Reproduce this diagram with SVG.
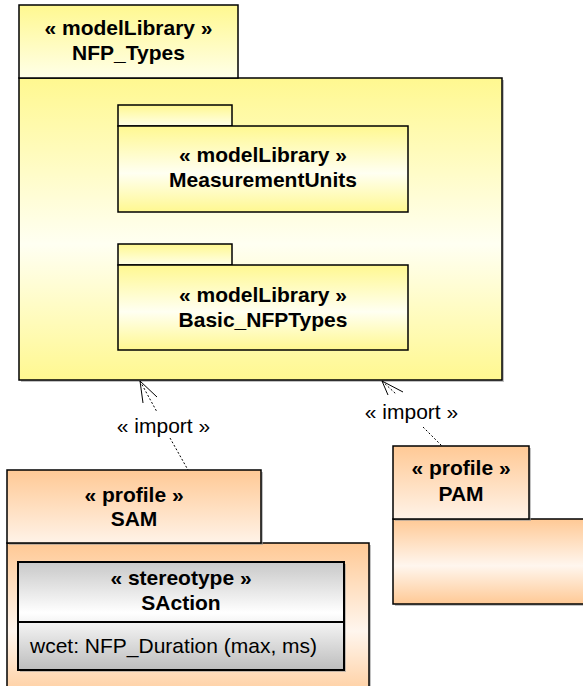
<svg xmlns="http://www.w3.org/2000/svg" width="583" height="686" viewBox="0 0 583 686">
<defs>
<linearGradient id="yTab" x1="0" y1="0" x2="0" y2="1"><stop offset="0" stop-color="#FFF890"/><stop offset="1" stop-color="#FFFFE8"/></linearGradient>
<linearGradient id="yBody" x1="0" y1="0" x2="0" y2="1"><stop offset="0" stop-color="#FFF890"/><stop offset="0.55" stop-color="#FFFFF2"/><stop offset="1" stop-color="#FFF890"/></linearGradient>
<linearGradient id="oTab" x1="0" y1="0" x2="0" y2="1"><stop offset="0" stop-color="#FFC995"/><stop offset="1" stop-color="#FFF3E8"/></linearGradient>
<linearGradient id="oBody" x1="0" y1="0" x2="0" y2="1"><stop offset="0" stop-color="#FFC995"/><stop offset="0.55" stop-color="#FFF6EE"/><stop offset="1" stop-color="#FFC995"/></linearGradient>
<linearGradient id="gBody" x1="0" y1="0" x2="0" y2="1"><stop offset="0" stop-color="#C8C8C8"/><stop offset="0.47" stop-color="#FFFFFF"/><stop offset="1" stop-color="#BDBDBD"/></linearGradient>
</defs>
<style>
.b{stroke:#000;stroke-width:1.5}
.sh{fill:#999;opacity:0.6}
.t{font-family:"Liberation Sans",Arial,sans-serif;font-size:21px;font-weight:bold;text-anchor:middle;fill:#000}
.r{font-family:"Liberation Sans",Arial,sans-serif;font-size:21px;fill:#000}
.dash{stroke:#000;stroke-width:1;stroke-dasharray:2,2;fill:none}
.ah{stroke:#000;stroke-width:1;fill:none}
</style>
<g id="NFP_Types">
<rect class="sh" x="21" y="80" width="483" height="302"/>
<rect class="b" x="19" y="78" width="483" height="302" fill="url(#yBody)"/>
<rect class="b" x="19" y="5" width="219" height="73" fill="url(#yTab)"/>
<text class="t" x="128.5" y="35">« modelLibrary »</text>
<text class="t" x="128.5" y="60">NFP_Types</text>
</g>
<g id="MeasurementUnits">
<rect class="b" x="118" y="105" width="114" height="21" fill="url(#yTab)"/>
<rect class="b" x="118" y="126" width="290" height="86" fill="url(#yBody)"/>
<text class="t" x="263" y="162">« modelLibrary »</text>
<text class="t" x="263" y="187">MeasurementUnits</text>
</g>
<g id="Basic_NFPTypes">
<rect class="b" x="118" y="244" width="114" height="21" fill="url(#yTab)"/>
<rect class="b" x="118" y="265" width="290" height="85" fill="url(#yBody)"/>
<text class="t" x="263" y="302">« modelLibrary »</text>
<text class="t" x="263" y="327">Basic_NFPTypes</text>
</g>
<g id="SAM">
<rect class="sh" x="9" y="545" width="362" height="160"/>
<rect class="b" x="7" y="543" width="362" height="160" fill="url(#oBody)"/>
<rect class="sh" x="9" y="472" width="254" height="73"/>
<rect class="b" x="7" y="470" width="254" height="73" fill="url(#oTab)"/>
<text class="t" x="134" y="502">« profile »</text>
<text class="t" x="134" y="526">SAM</text>
</g>
<g id="SAction">
<rect class="sh" x="20" y="564" width="326" height="108"/>
<rect x="18" y="562" width="326" height="108" fill="url(#gBody)" stroke="#000" stroke-width="2"/>
<line x1="18" y1="622" x2="344" y2="622" stroke="#000" stroke-width="2"/>
<text class="t" x="181" y="585">« stereotype »</text>
<text class="t" x="181" y="610">SAction</text>
<text class="r" x="30" y="653">wcet: NFP_Duration (max, ms)</text>
</g>
<g id="PAM">
<rect class="sh" x="395" y="521" width="200" height="85"/>
<rect class="b" x="393" y="519" width="200" height="85" fill="url(#oBody)"/>
<rect class="sh" x="395" y="448" width="136" height="73"/>
<rect class="b" x="393" y="446" width="136" height="73" fill="url(#oTab)"/>
<text class="t" x="461" y="475">« profile »</text>
<text class="t" x="461" y="501">PAM</text>
</g>
<g id="connectors">
<line class="dash" x1="140" y1="381" x2="157" y2="412"/>
<line class="dash" x1="170" y1="438" x2="188" y2="470"/>
<polyline class="ah" points="143,403 140,381 157,397"/>
<text class="r" x="163.5" y="433" text-anchor="middle">« import »</text>
<line class="dash" x1="382" y1="381" x2="396" y2="394"/>
<line class="dash" x1="423" y1="427" x2="442" y2="446"/>
<polyline class="ah" points="388,395 382,381 403,392"/>
<text class="r" x="411.5" y="419" text-anchor="middle">« import »</text>
</g>
</svg>
